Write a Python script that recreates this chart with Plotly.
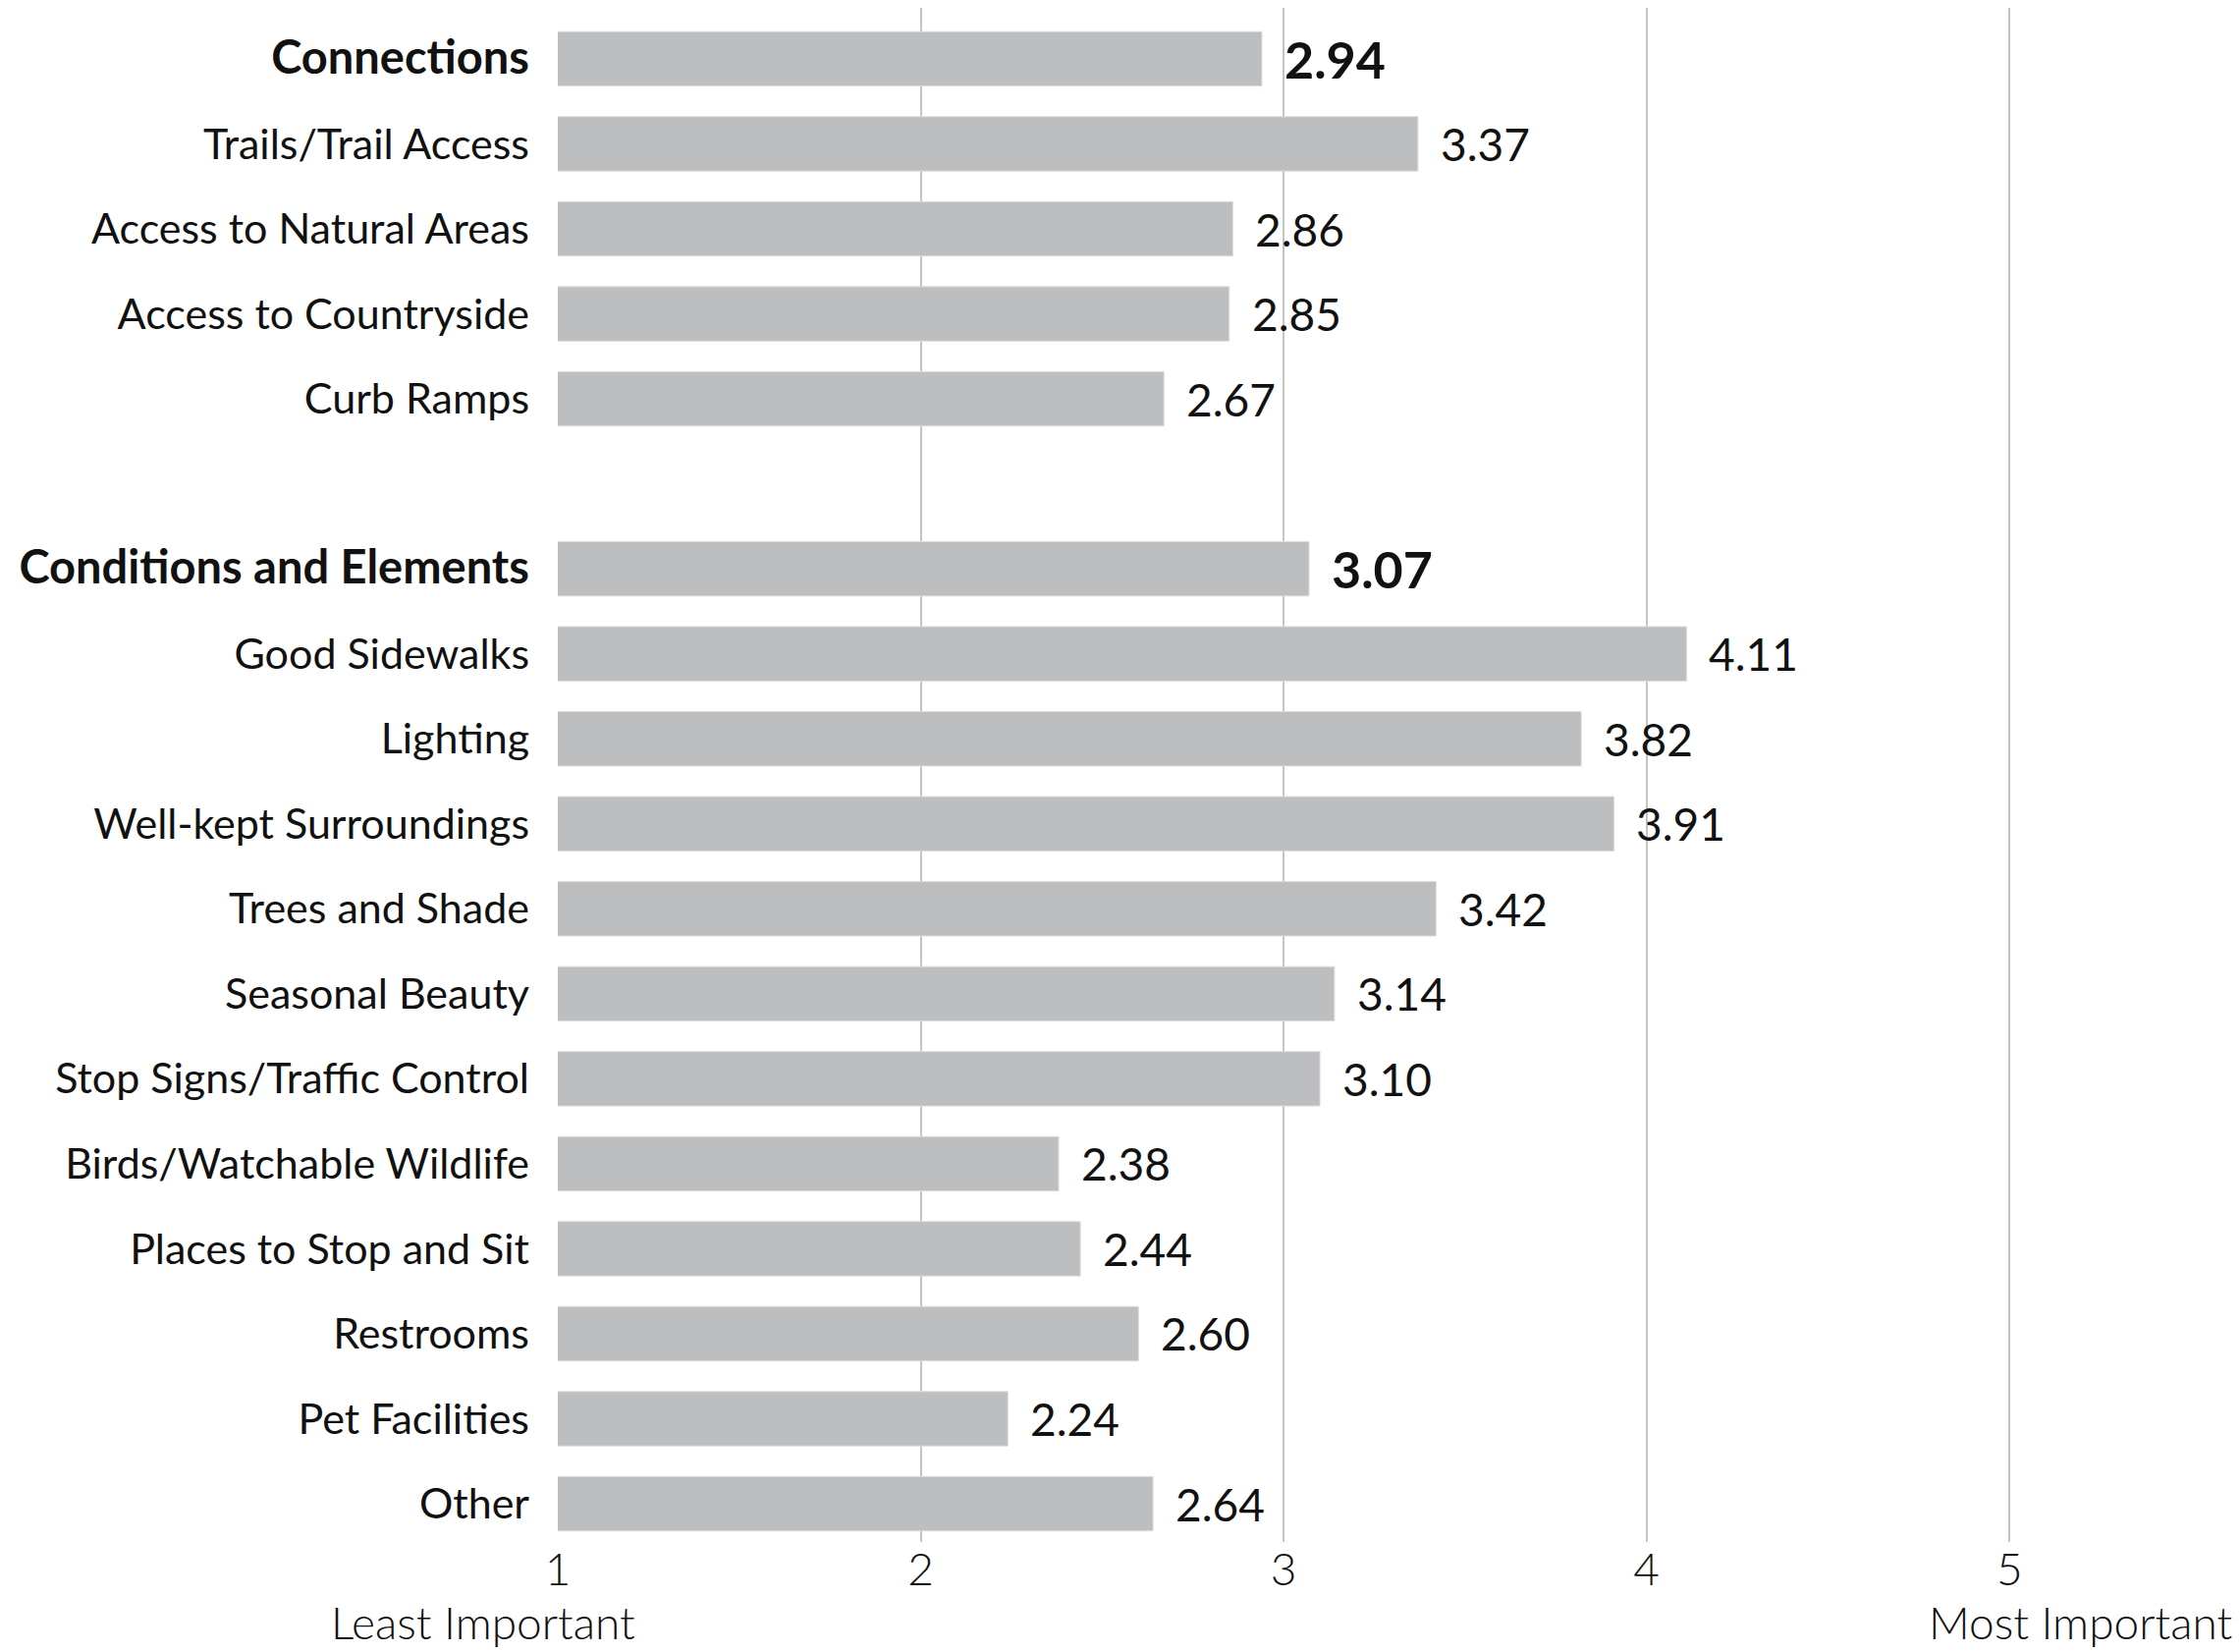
import plotly.graph_objects as go

categories = [
    "<b>Connections</b>", "Trails/Trail Access", "Access to Natural Areas",
    "Access to Countryside", "Curb Ramps", " ",
    "<b>Conditions and Elements</b>", "Good Sidewalks", "Lighting",
    "Well-kept Surroundings", "Trees and Shade", "Seasonal Beauty",
    "Stop Signs/Traffic Control", "Birds/Watchable Wildlife",
    "Places to Stop and Sit", "Restrooms", "Pet Facilities", "Other",
]
values = [2.94, 3.37, 2.86, 2.85, 2.67, None,
          3.07, 4.11, 3.82, 3.91, 3.42, 3.14, 3.10, 2.38, 2.44, 2.60, 2.24, 2.64]
is_header = [True, False, False, False, False, False,
             True, False, False, False, False, False, False, False, False, False, False, False]
x_ticks = [1, 2, 3, 4, 5]
end_labels = ["Least Important", "Most Important"]

FONT = "Lato"

fig = go.Figure()
fig.add_trace(go.Bar(
    y=categories, x=values, orientation="h",
    marker=dict(color="#bdbec0", line=dict(color="#dcdcdc", width=1)),
    width=0.64, hoverinfo="skip",
))

for cat, v, h in zip(categories, values, is_header):
    if v is None:
        continue
    fig.add_annotation(
        x=v, y=cat, xref="x", yref="y",
        text=(f"<b>{v:.2f}</b>" if h else f"{v:.2f}"),
        showarrow=False, xanchor="left", yanchor="middle", xshift=21,
        font=dict(family=FONT, size=52 if h else 46, color="#111111"),
    )

fig.add_annotation(x=-0.045, y=-0.052, xref="paper", yref="paper", text=end_labels[0],
                   showarrow=False, xanchor="center", yanchor="middle",
                   font=dict(family=FONT, size=46, color="#111111", weight=300))
fig.add_annotation(x=0.912, y=-0.052, xref="paper", yref="paper", text=end_labels[1],
                   showarrow=False, xanchor="center", yanchor="middle",
                   font=dict(family=FONT, size=46, color="#111111", weight=300))

fig.update_layout(
    width=2281, height=1682,
    margin=dict(l=560, r=21, t=0, b=120),
    paper_bgcolor="white", plot_bgcolor="white",
    showlegend=False,
    font=dict(family=FONT, color="#111111"),
    xaxis=dict(
        range=[1, 5.6], tickvals=x_ticks, ticktext=[str(t) for t in x_ticks],
        showgrid=True, gridcolor="#c4c4c4", gridwidth=1.5,
        zeroline=False, showline=False,
        ticks="", ticklabelstandoff=-3,
        tickfont=dict(family=FONT, size=46, color="#111111", weight=300),
    ),
    yaxis=dict(
        categoryorder="array", categoryarray=categories,
        range=[17.45, -0.6], autorange=False,
        showgrid=False, zeroline=False, showline=False,
        ticks="", ticklabelstandoff=28,
        tickfont=dict(family=FONT, size=43, color="#111111"),
    ),
)

fig.update_yaxes(ticktext=[
    (f"<span style='font-size:47px'>{c}</span>" if h else c)
    for c, h in zip(categories, is_header)
], tickvals=categories)

fig.write_html("out.html")
